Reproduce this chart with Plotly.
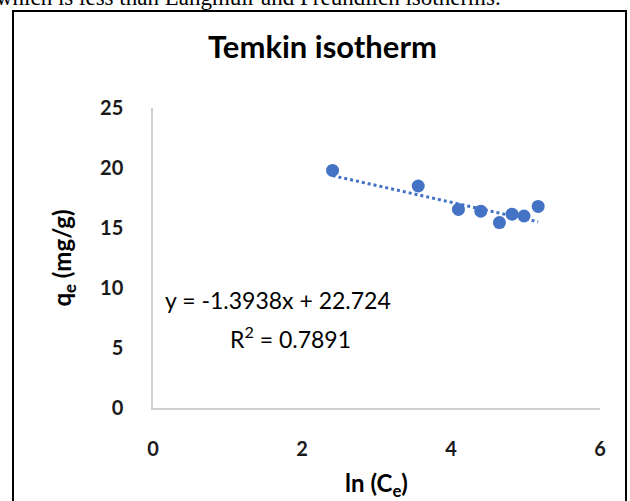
import plotly.graph_objects as go

# Temkin isotherm data: ln(Ce) vs qe (mg/g)
ln_ce = [2.41, 3.56, 4.10, 4.40, 4.65, 4.82, 4.98, 5.17]
qe = [19.8, 18.5, 16.55, 16.4, 15.45, 16.15, 16.0, 16.8]

# Linear trendline parameters
slope = -1.3938
intercept = 22.724
r_squared = 0.7891

x_ticks = [0, 2, 4, 6]
y_ticks = [0, 5, 10, 15, 20, 25]

W, H = 630, 501
L, R, T, B = 153, 30, 108, 93
PW, PH = W - L - R, H - T - B


def px(x):
    return (x - L) / PW


def py(y):
    return (H - B - y) / PH


blue = "#4472C4"
font_main = "Lato"

x_fit = [min(ln_ce), max(ln_ce)]
y_fit = [slope * v + intercept for v in x_fit]

fig = go.Figure()
fig.add_trace(go.Scatter(
    x=x_fit, y=y_fit, mode="lines",
    line=dict(color=blue, width=3, dash="dot"),
    hoverinfo="skip", showlegend=False,
))
fig.add_trace(go.Scatter(
    x=ln_ce, y=qe, mode="markers",
    marker=dict(color=blue, size=13),
    showlegend=False,
))

axis_common = dict(
    showgrid=False, zeroline=False, showline=True, automargin=False,
    linecolor="#d0d0d0", linewidth=1.5, ticks="",
    tickfont=dict(family=font_main, size=20, color="#1a1a1a", weight="bold"),
)

fig.update_xaxes(range=[0, 6], tickvals=x_ticks, ticklabelstandoff=22,
                 title=dict(text="<b>ln (C<sub>e</sub>)</b>", standoff=26,
                            font=dict(family=font_main, size=24, color="#000000")),
                 **axis_common)
fig.update_yaxes(range=[0, 25], tickvals=y_ticks, ticklabelstandoff=24,
                 title=dict(text="<b>q<sub>e</sub> (mg/g)</b>", standoff=22,
                            font=dict(family=font_main, size=24, color="#000000")),
                 **axis_common)

eq_text = f"y = {slope:.4f}x + {intercept:.3f}"
r2_text = f"R<sup>2</sup> = {r_squared:.4f}"

annotations = [
    dict(text="<b>Temkin isotherm</b>", x=px(322), y=py(46),
         font=dict(family=font_main, size=31, color="#000000")),
    dict(text=eq_text, x=px(163), y=py(300), xanchor="left",
         font=dict(family=font_main, size=23, color="#000000")),
    dict(text=r2_text, x=px(290), y=py(337),
         font=dict(family=font_main, size=23, color="#000000")),
    dict(text="which is less than Langmuir and Freundlich isotherms.",
         x=px(-6), y=py(12), xanchor="left", yanchor="bottom",
         font=dict(family="Liberation Serif", size=23, color="#000000")),
]
for a in annotations:
    a.update(xref="paper", yref="paper", showarrow=False)
    a.setdefault("xanchor", "center")
    a.setdefault("yanchor", "middle")

fig.update_layout(
    width=W, height=H,
    margin=dict(l=L, r=R, t=T, b=B),
    paper_bgcolor="#ffffff", plot_bgcolor="#ffffff",
    annotations=annotations,
    shapes=[dict(type="rect", xref="paper", yref="paper",
                 x0=px(13), x1=px(626), y0=py(520), y1=py(11),
                 line=dict(color="#000000", width=2), fillcolor="rgba(0,0,0,0)",
                 layer="below")],
)

fig.write_html("out.html")
